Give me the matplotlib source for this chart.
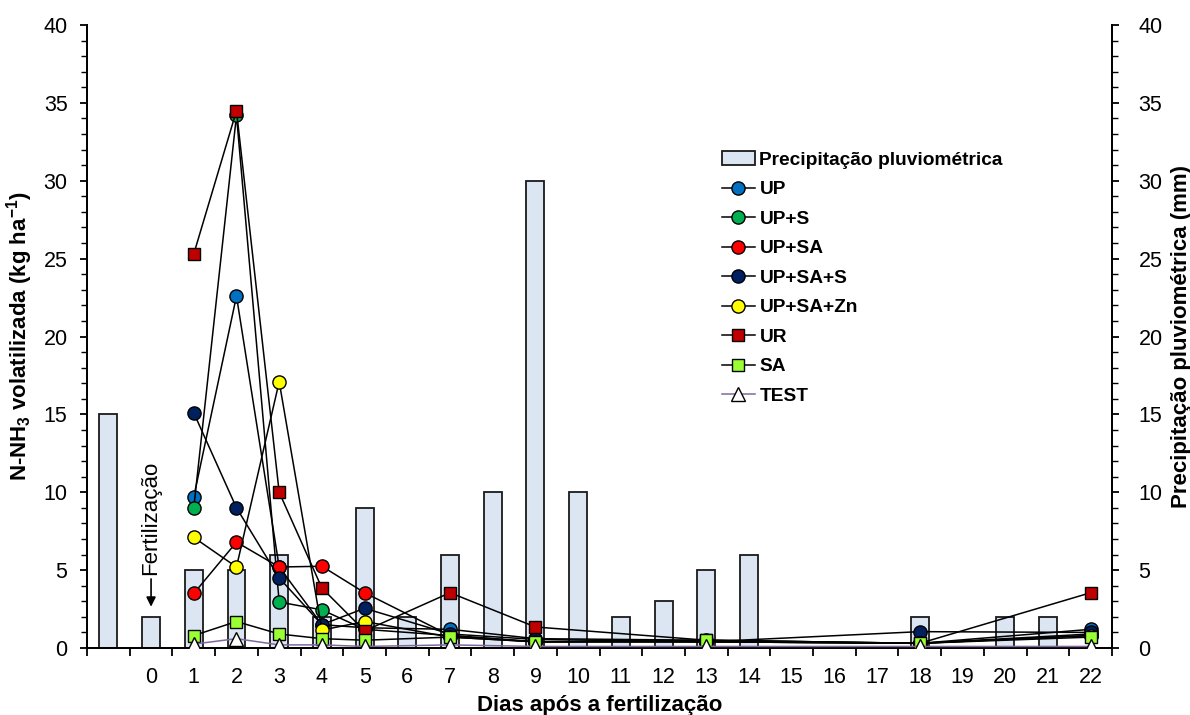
import matplotlib
matplotlib.use("Agg")
import matplotlib.pyplot as plt
from matplotlib.ticker import MultipleLocator, FixedLocator
from matplotlib.lines import Line2D
from matplotlib.patches import Patch

plt.rcParams['font.family'] = ['Liberation Sans', 'DejaVu Sans']
plt.rcParams['mathtext.fontset'] = 'custom'
plt.rcParams['mathtext.rm'] = 'Liberation Sans:bold'
plt.rcParams['mathtext.bf'] = 'Liberation Sans:bold'
plt.rcParams['mathtext.it'] = 'Liberation Sans:bold'

# ---- data ----
bar_days = list(range(-1, 23))
tick_labels = [''] + [str(d) for d in range(0, 23)]
precip = [15, 2, 5, 5, 6, 2, 9, 2, 6, 10, 30, 10, 2, 3, 5, 6, 0, 0, 0, 2, 0, 2, 2, 0]

days = [1, 2, 3, 4, 5, 7, 9, 13, 18, 22]
up = [9.7, 22.6, 5.2, 1.5, 1.3, 1.2, 0.6, 0.5, 0.3, 1.2]
up_s = [9.0, 34.2, 2.95, 2.45, 1.2, 0.8, 0.4, 0.4, 0.3, 0.8]
up_sa = [3.5, 6.8, 5.2, 5.25, 3.55, 0.8, 0.4, 0.4, 0.3, 0.9]
up_sa_s = [15.1, 9.0, 4.5, 1.5, 2.55, 0.9, 0.55, 0.4, 1.05, 1.0]
up_sa_zn = [7.1, 5.2, 17.1, 1.15, 1.7, 0.7, 0.4, 0.4, 0.3, 0.8]
ur = [25.3, 34.5, 10.0, 3.85, 1.1, 3.55, 1.35, 0.5, 0.3, 3.55]
sa = [0.8, 1.7, 0.9, 0.6, 0.5, 0.7, 0.4, 0.5, 0.3, 0.7]
test = [0.25, 0.6, 0.2, 0.2, 0.1, 0.2, 0.1, 0.1, 0.1, 0.1]

series = [
    ('UP', up, 'o', '#0070C0'),
    ('UP+S', up_s, 'o', '#00B050'),
    ('UP+SA', up_sa, 'o', '#FF0000'),
    ('UP+SA+S', up_sa_s, 'o', '#002060'),
    ('UP+SA+Zn', up_sa_zn, 'o', '#FFFF00'),
    ('UR', ur, 's', '#C00000'),
    ('SA', sa, 's', '#99FF33'),
    ('TEST', test, '^', '#FFFFFF'),
]

fig = plt.figure(figsize=(11.9, 7.15), dpi=100)
ax = fig.add_axes([0.0731, 0.0937, 0.8614, 0.8713])
ax2 = ax.twinx()

# bars on the secondary axis (precipitation)
ax2.bar(bar_days, precip, width=0.42, color='#DCE6F2', edgecolor='#1a1a1a', linewidth=1.3, zorder=1)
ax.set_zorder(ax2.get_zorder() + 1)
ax.patch.set_visible(False)

handles = [Patch(facecolor='#DCE6F2', edgecolor='#1a1a1a', linewidth=1.3, label='Precipitação pluviométrica')]
for name, vals, mk, col in series:
    lc = '#7F6A9E' if name == 'TEST' else 'black'
    ms = 10.5 if mk == '^' else (9.5 if mk == 'o' else 8.5)
    ax.plot(days, vals, color=lc, linewidth=1.1, marker=mk, markersize=ms,
            markerfacecolor=col, markeredgecolor='black', markeredgewidth=1.0, zorder=3)
    handles.append(Line2D([0], [0], color=lc, linewidth=1.1, marker=mk, markersize=ms,
                          markerfacecolor=col, markeredgecolor='black', markeredgewidth=1.0, label=name))

for a in (ax, ax2):
    a.set_xlim(-1.5, 22.5)
    a.set_ylim(0, 40)
    a.spines['top'].set_visible(False)
    for s in ('left', 'right', 'bottom'):
        a.spines[s].set_linewidth(1.3)

ax.set_xticks(bar_days)
ax.set_xticklabels(tick_labels)
ax.xaxis.set_minor_locator(FixedLocator([d + 0.5 for d in range(-2, 23)]))
ax.tick_params(axis='x', which='major', length=0, pad=13.5, labelsize=15.5)
ax.tick_params(axis='x', which='minor', length=6, width=1.3, direction='out')

ax.yaxis.set_major_locator(MultipleLocator(5))
ax.yaxis.set_minor_locator(MultipleLocator(1))
ax.tick_params(axis='y', which='major', length=5, width=1.3, labelsize=15.5, direction='out', pad=9)
ax.tick_params(axis='y', which='minor', length=4, width=1.0, direction='out')

ax2.yaxis.set_major_locator(MultipleLocator(5))
ax2.yaxis.set_minor_locator(MultipleLocator(1))
ax2.tick_params(axis='y', which='major', length=5, width=1.3, labelsize=15.5, direction='out', pad=14)
ax2.tick_params(axis='y', which='minor', length=4, width=1.0, direction='out')

ax.set_xlabel('Dias após a fertilização', fontsize=16, fontweight='bold', labelpad=5)
ax.set_ylabel(r'N-NH$_\mathbf{3}$ volatilizada (kg ha$^\mathbf{-1}$)', fontsize=16, fontweight='bold', labelpad=6)
ax2.set_ylabel('Precipitação pluviométrica (mm)', fontsize=16, fontweight='bold', labelpad=6)

ax.annotate('Fertilização', xy=(0, 2.65), xytext=(0, 4.7), rotation=90,
            ha='center', va='bottom', fontsize=16,
            arrowprops=dict(arrowstyle='-|>', color='black', linewidth=1.2, shrinkA=1, shrinkB=0,
                            mutation_scale=14))

leg = ax.legend(handles=handles, loc='upper left', bbox_to_anchor=(0.6195, 0.797),
                frameon=False, prop={'weight': 'bold', 'size': 13.8},
                handlelength=1.7, handletextpad=0.25, labelspacing=0.63, borderaxespad=0, borderpad=0)

fig.savefig('out.png', dpi=100)
